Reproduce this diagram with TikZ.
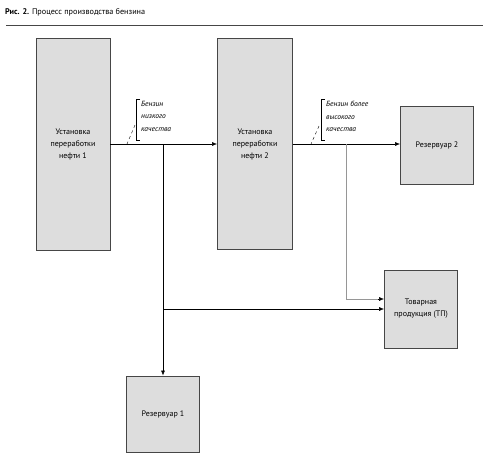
\documentclass[tikz,border=0pt]{standalone}
\usepackage{fontspec}
\setmainfont{PT Sans}
\usetikzlibrary{arrows.meta}
\definecolor{boxGray}{RGB}{221, 221, 221}
\definecolor{edgeGray}{RGB}{70, 70, 70}
\definecolor{flowGray}{RGB}{150, 150, 150}

\tikzset{
  unit/.style={draw=edgeGray, fill=boxGray, line width=0.8pt, align=center,
    font=\fontsize{8}{12}\selectfont, inner sep=0pt},
  flow/.style={-{Latex[length=5pt,width=4pt]}, line width=0.6pt},
  note/.style={font=\fontsize{7.5}{12.5}\selectfont\itshape, align=left, anchor=north west, inner sep=0pt}
}

\begin{document}
\begin{tikzpicture}[x=1pt, y=-1pt]
        \useasboundingbox (0,0) rectangle (493,461);
        % title and rule
        \node[anchor=west, inner sep=0pt, font=\fontsize{8.2}{9}\selectfont] (title) at (5,12)
          {\textbf{Рис. 2.} Процесс производства бензина};
        \draw[edgeGray, line width=1pt] (6,25) -- (483,25);
        % units
        \node[unit, minimum width=74pt, minimum height=212pt] (ust1) at (73,144) {Установка\\переработки\\нефти 1};
        \node[unit, minimum width=75pt, minimum height=211pt] (ust2) at (255,144) {Установка\\переработки\\нефти 2};
        \node[unit, minimum width=73pt, minimum height=78pt] (rez2) at (437,145) {Резервуар 2};
        \node[unit, minimum width=73pt, minimum height=78pt] (tp) at (421,309) {Товарная\\продукция (ТП)};
        \node[unit, minimum width=73pt, minimum height=76pt] (rez1) at (163,414) {Резервуар 1};
        % branch points
        \coordinate (split1) at (163,144);
        \coordinate (split1low) at (163,309);
        \coordinate (split2) at (346,144);
        % flows
        \draw[flow] (ust1.east |- split1) -- (ust2.west |- split1);
        \draw[flow] (ust2.east |- split2) -- (rez2.west |- split2);
        \draw[flow] (split1) -- (rez1.north);
        \draw[flow] (split1low) -- (tp.west);
        \draw[flowGray, line width=0.6pt] (split2) |- ([xshift=-5pt,yshift=10pt]tp.west);
        \draw[flow] ([xshift=-6pt,yshift=10pt]tp.west) -- ([yshift=10pt]tp.west);
        % labels on the flows
        \draw[line width=0.5pt] (140,99) -- (136,99) -- (136,140) -- (140,140);
        \draw[dashed, line width=0.4pt] (135,125) -- (127,144);
        \node[note] (lab1) at (141,101) {Бензин\\низкого\\качества};
        \draw[line width=0.5pt] (325,99) -- (321,99) -- (321,140) -- (325,140);
        \draw[dashed, line width=0.4pt] (319,126) -- (311,144);
        \node[note] (lab2) at (326,101) {Бензин более\\высокого\\качества};
      \end{tikzpicture}
\end{document}
